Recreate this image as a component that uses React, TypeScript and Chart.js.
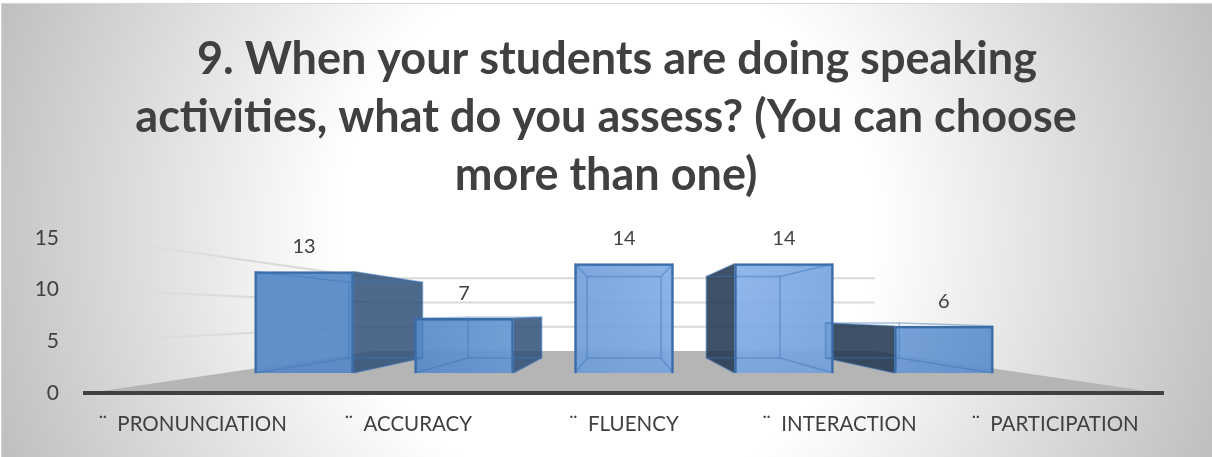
import React, { useEffect, useRef } from "react";
import { Chart, registerables } from "chart.js";

Chart.register(...registerables);

const categories = ["¨  PRONUNCIATION", "¨  ACCURACY", "¨  FLUENCY", "¨  INTERACTION", "¨  PARTICIPATION"];
const values = [13, 7, 14, 14, 6];
const titleLines = [
  "  9. When your students are doing speaking",
  "activities, what do you assess? (You can choose",
  "more than one)",
];
const FONT = "Lato";
const TEXT = "#404040";

const VP = { x: 624, y: 314 };
const BAR_DEPTH = 0.745;
const WALL_DEPTH = 0.468;
const px = (x: number, s: number) => VP.x + (x - VP.x) * s;
const py = (y: number, s: number) => VP.y + (y - VP.y) * s;

const scene = {
  id: "scene",
  beforeDraw(chart: any) {
    const { ctx, chartArea: a, scales } = chart;
    ctx.save();
    ctx.fillStyle = "#ffffff";
    ctx.fillRect(0, 0, chart.width, chart.height);
    const g = ctx.createRadialGradient(606, 228, 0, 606, 228, 640);
    g.addColorStop(0, "#ffffff");
    g.addColorStop(0.42, "#ffffff");
    g.addColorStop(1, "#c0c0c0");
    ctx.fillStyle = g;
    ctx.fillRect(2, 4, chart.width - 2, chart.height - 4);
    ctx.strokeStyle = "#d4d4d4";
    ctx.lineWidth = 1;
    ctx.strokeRect(1.5, 3.5, chart.width, chart.height);

    // walls: gridlines taken from the primary value scale
    const left = a.left + 3;
    const right = a.right - 3;
    const backL = px(left, WALL_DEPTH);
    const backR = px(right, WALL_DEPTH);
    const fade = ctx.createLinearGradient(left, 0, backL, 0);
    fade.addColorStop(0, "rgba(217,217,217,0)");
    fade.addColorStop(0.55, "rgba(217,217,217,1)");
    fade.addColorStop(1, "rgba(217,217,217,1)");
    ctx.lineWidth = 2;
    for (const t of scales.y.ticks) {
      if (t.value === 0) continue;
      const y = scales.y.getPixelForValue(t.value);
      const by = py(y, WALL_DEPTH);
      ctx.strokeStyle = fade;
      ctx.beginPath();
      ctx.moveTo(left, y);
      ctx.lineTo(backL, by);
      ctx.stroke();
      ctx.strokeStyle = "#d9d9d9";
      ctx.beginPath();
      ctx.moveTo(backL, by);
      ctx.lineTo(backR, by);
      ctx.stroke();
    }

    // floor
    ctx.fillStyle = "#b5b5b5";
    ctx.beginPath();
    ctx.moveTo(left, a.bottom);
    ctx.lineTo(backL, py(a.bottom, WALL_DEPTH));
    ctx.lineTo(backR, py(a.bottom, WALL_DEPTH));
    ctx.lineTo(right, a.bottom);
    ctx.closePath();
    ctx.fill();
    ctx.restore();
  },
  beforeDatasetsDraw(chart: any) {
    const { ctx } = chart;
    ctx.save();
    chart.getDatasetMeta(0).data.forEach((el: any) => {
      const l = el.x - el.width / 2;
      const r = el.x + el.width / 2;
      const side = r < VP.x ? r : l > VP.x ? l : null;
      if (side === null) return;
      ctx.fillStyle = r < VP.x ? "rgba(46,80,120,0.85)" : "rgba(35,55,80,0.87)";
      ctx.beginPath();
      ctx.moveTo(side, el.y);
      ctx.lineTo(px(side, BAR_DEPTH), py(el.y, BAR_DEPTH));
      ctx.lineTo(px(side, BAR_DEPTH), py(el.base, BAR_DEPTH));
      ctx.lineTo(side, el.base);
      ctx.closePath();
      ctx.fill();
    });
    ctx.restore();
  },
  afterDatasetsDraw(chart: any) {
    const { ctx } = chart;
    ctx.save();
    chart.getDatasetMeta(0).data.forEach((el: any, i: number) => {
      const l = el.x - el.width / 2;
      const r = el.x + el.width / 2;
      const bl = px(l, BAR_DEPTH);
      const br = px(r, BAR_DEPTH);
      const bt = py(el.y, BAR_DEPTH);
      const bb = py(el.base, BAR_DEPTH);
      ctx.strokeStyle = "rgba(60,115,185,0.45)";
      ctx.lineWidth = 1.5;
      ctx.strokeRect(bl, bt, br - bl, bb - bt);
      ctx.beginPath();
      ctx.moveTo(l, el.y); ctx.lineTo(bl, bt);
      ctx.moveTo(r, el.y); ctx.lineTo(br, bt);
      ctx.moveTo(l, el.base); ctx.lineTo(bl, bb);
      ctx.moveTo(r, el.base); ctx.lineTo(br, bb);
      ctx.stroke();
      ctx.fillStyle = TEXT;
      ctx.font = `20px ${FONT}`;
      ctx.textAlign = "center";
      ctx.textBaseline = "middle";
      ctx.fillText(String(values[i]), el.x, el.y - 25);
    });
    ctx.restore();
  },
};

export default function App() {
  const ref = useRef<HTMLCanvasElement>(null);
  useEffect(() => {
    const canvas = ref.current!;
    const c2d = canvas.getContext("2d")!;
    const front = c2d.createRadialGradient(720, 265, 0, 720, 265, 330);
    front.addColorStop(0, "rgba(138,180,235,0.93)");
    front.addColorStop(1, "rgba(86,136,198,0.93)");
    const chart = new Chart(canvas, {
      type: "bar",
      data: {
        labels: categories,
        datasets: [
          {
            data: values.map((v, i) => ({ x: i, y: v })),
            xAxisID: "x2",
            yAxisID: "y2",
            barThickness: 99,
            backgroundColor: front,
            borderColor: "#3a6ca8",
            borderWidth: 2.5,
          },
        ],
      } as any,
      plugins: [scene],
      options: {
        responsive: false,
        animation: false,
        layout: { padding: 0 },
        plugins: {
          legend: { display: false },
          tooltip: { enabled: false },
          title: {
            display: true,
            text: titleLines,
            color: TEXT,
            font: { family: FONT, size: 45, weight: "bold", lineHeight: 1.28 },
            padding: { top: 31, bottom: 34 },
          },
        },
        scales: {
          x: {
            type: "category",
            grid: { display: false },
            border: { display: true, color: "#404040", width: 4 },
            ticks: { color: TEXT, font: { family: FONT, size: 20.5 }, padding: 11, maxRotation: 0, autoSkip: false },
            afterFit: (s: any) => { s.height = 64; },
          },
          x2: { type: "linear", display: false, offset: false, min: -1.37, max: 5.37 },
          y: {
            type: "linear",
            min: 0,
            max: 15,
            position: "left",
            grid: { display: false },
            border: { display: false },
            ticks: { stepSize: 5, color: TEXT, font: { family: FONT, size: 21 }, padding: 18 },
            afterFit: (s: any) => { s.width = 85; },
          },
          y2: {
            type: "linear",
            position: "right",
            min: -2.564,
            max: 17.31,
            grid: { display: false },
            border: { display: false },
            ticks: { display: false },
            afterFit: (s: any) => { s.width = 49; },
          },
        },
      } as any,
    });
    return () => chart.destroy();
  }, []);
  return (
    <div style={{ position: "absolute", left: 0, top: 0 }}>
      <canvas ref={ref} width={1212} height={457} style={{ display: "block" }} />
    </div>
  );
}
